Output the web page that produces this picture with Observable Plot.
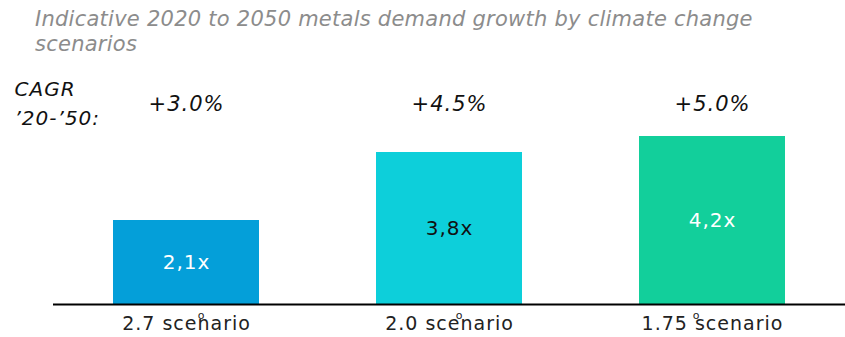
<!DOCTYPE html>
<html><head><meta charset="utf-8">
<script src="https://cdn.jsdelivr.net/npm/d3@7"></script>
<script src="https://cdn.jsdelivr.net/npm/@observablehq/plot@0.6"></script>
<style>
body{margin:0;background:#fff;font-family:"DejaVu Sans",Verdana,sans-serif;}
#wrap{position:relative;width:845px;height:337px;}
#title{position:absolute;left:35px;top:7px;width:800px;font-size:21px;line-height:25px;font-style:italic;color:#8c8c8c;}
#title span{white-space:nowrap;}
svg{position:absolute;left:0;top:0;}
svg text{letter-spacing:1px;}
</style></head><body>
<div id="wrap"><div id="title"><span id="t1"></span><br><span id="t2"></span></div></div>
<script>
const titleLines = ["Indicative 2020 to 2050 metals demand growth by climate change", "scenarios"];
const scenarios = ["2.7 scenario", "2.0 scenario", "1.75 scenario"];
const multiples = [2.1, 3.8, 4.2];
const multipleLabels = ["2,1x", "3,8x", "4,2x"];
const cagrLabels = ["+3.0%", "+4.5%", "+5.0%"];
const colors = ["#049fd9", "#0dcfda", "#12cf9b"];
const labelColors = ["#ffffff", "#111111", "#ffffff"];
const cagrTitle = "CAGR\n\u201920-\u201950:";

// title: fit first line to the reference's width
const t1 = document.getElementById("t1"), t2 = document.getElementById("t2");
t1.textContent = titleLines[0]; t2.textContent = titleLines[1];
let ls = 0;
while (ls < 4 && t1.getBoundingClientRect().width < 717) { ls += 0.05; document.getElementById("title").style.letterSpacing = ls + "px"; }

const data = scenarios.map((s, i) => ({s, v: multiples[i], lab: multipleLabels[i], cagr: cagrLabels[i], c: colors[i], lc: labelColors[i]}));
const degMark = (s, dx) => Plot.text([s], {x: d => d, y: () => 0, dy: 11, dx, text: () => "o", fontSize: 11, fill: "#222"});

const chart = Plot.plot({
  width: 845, height: 337,
  marginLeft: 53, marginRight: 0, marginTop: 64, marginBottom: 33,
  style: {fontFamily: "DejaVu Sans, Verdana, sans-serif", background: "transparent"},
  x: {domain: scenarios, paddingInner: 0.443, paddingOuter: 0.2235, label: null},
  y: {domain: [0, 6], axis: null},
  marks: [
    Plot.barY(data, {x: "s", y: "v", fill: "c"}),
    Plot.text(data, {x: "s", y: d => d.v / 2, text: "lab", fill: "lc", fontSize: 20}),
    Plot.text(data, {x: "s", y: () => 5.0, text: "cagr", fontSize: 21, fontStyle: "italic", fill: "#111"}),
    Plot.text([cagrTitle], {y: () => 5.0, frameAnchor: "left", textAnchor: "start", dx: -39, dy: -3, fontSize: 20, fontStyle: "italic", fill: "#111", lineHeight: 1.45}),
    Plot.ruleY([0], {stroke: "#000", strokeWidth: 2}),
    Plot.axisX({tickSize: 0, tickPadding: 12, fontSize: 19, fill: "#222", label: null}),
    degMark(scenarios[0], 15),
    degMark(scenarios[1], 10),
    degMark(scenarios[2], -16)
  ]
});
document.getElementById("wrap").appendChild(chart);
</script>
</body></html>
